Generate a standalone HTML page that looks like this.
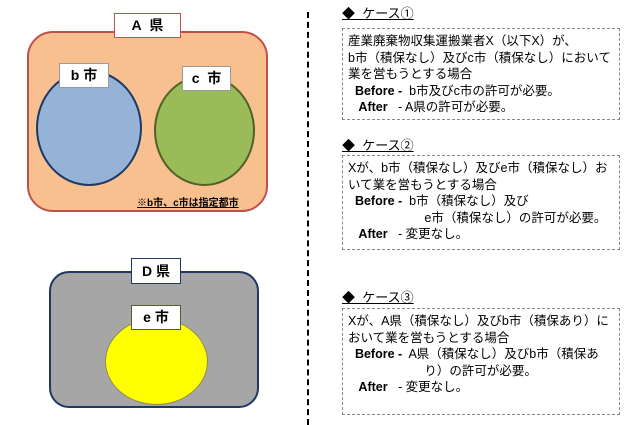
<!DOCTYPE html>
<html><head><meta charset="utf-8"><style>
body{margin:0;width:640px;height:425px;background:#fff;position:relative;overflow:hidden;font-family:"Liberation Sans","Noto Sans CJK JP",sans-serif;color:#000}
.a{position:absolute}
.lbl{position:absolute;background:#fff;text-align:center;font-weight:bold;font-size:14px;box-sizing:border-box}
.h{position:absolute;left:342px;font-size:13px;text-decoration:underline;white-space:nowrap}
.box{position:absolute;left:342px;width:278px;border:1px dashed #888;box-sizing:border-box;font-size:12.5px;line-height:16.5px;padding:4px 5px;white-space:nowrap}
b{font-weight:bold}
</style></head><body>
<div class="a" style="left:27px;top:31px;width:241px;height:181px;background:#f8bf8f;border:2px solid #c0504d;border-radius:26px;box-sizing:border-box"></div>
<div class="lbl" style="left:114px;top:13px;width:67px;height:25px;border:1px solid #c0504d;line-height:23px">A&nbsp; 県</div>
<div class="a" style="left:36px;top:70px;width:106px;height:116px;background:#95b3d7;border:2px solid #1f3864;border-radius:50%;box-sizing:border-box"></div>
<div class="lbl" style="left:59px;top:63px;width:50px;height:25px;border:1px solid #999;line-height:23px">b 市</div>
<div class="a" style="left:154px;top:75px;width:101px;height:111px;background:#9bbb59;border:2px solid #4f6228;border-radius:50%;box-sizing:border-box"></div>
<div class="lbl" style="left:182px;top:66px;width:49px;height:25px;border:1px solid #999;line-height:23px">c&nbsp; 市</div>
<div class="a" style="left:137px;top:194px;font-size:10px;font-weight:bold;text-decoration:underline;white-space:nowrap">※b市、c市は指定都市</div>

<div class="a" style="left:49px;top:271px;width:210px;height:137px;background:#a6a6a6;border:2px solid #1f3864;border-radius:20px;box-sizing:border-box"></div>
<div class="lbl" style="left:131px;top:258px;width:50px;height:26px;border:1px solid #1f3864;line-height:24px">D 県</div>
<div class="a" style="left:105px;top:318px;width:103px;height:87px;background:#ffff00;border:1px solid #948a54;border-radius:50%;box-sizing:border-box"></div>
<div class="lbl" style="left:131px;top:305px;width:50px;height:25px;border:1px solid #4f6228;line-height:23px">e 市</div>

<div class="a" style="left:307px;top:12px;height:413px;border-left:2px dashed #000"></div>

<div class="h" style="top:3px">◆&nbsp; ケース①</div>
<div class="box" style="top:28px;height:92px">産業廃棄物収集運搬業者X（以下X）が、<br>b市（積保なし）及びc市（積保なし）において<br>業を営もうとする場合<br>&nbsp;&nbsp;<b>Before -</b>&nbsp; b市及びc市の許可が必要。<br>&nbsp;&nbsp;&nbsp;<b>After</b>&nbsp;&nbsp;&nbsp;- A県の許可が必要。</div>

<div class="h" style="top:135px">◆&nbsp; ケース②</div>
<div class="box" style="top:155px;height:95px">Xが、b市（積保なし）及びe市（積保なし）お<br>いて業を営もうとする場合<br>&nbsp;&nbsp;<b>Before -</b>&nbsp; b市（積保なし）及び<br>&nbsp;&nbsp;&nbsp;&nbsp;&nbsp;&nbsp;&nbsp;&nbsp;&nbsp;&nbsp;&nbsp;&nbsp;&nbsp;&nbsp;&nbsp;&nbsp;&nbsp;&nbsp;&nbsp;&nbsp;&nbsp;&nbsp;e市（積保なし）の許可が必要。<br>&nbsp;&nbsp;&nbsp;<b>After</b>&nbsp;&nbsp;&nbsp;- 変更なし。</div>

<div class="h" style="top:287px">◆&nbsp; ケース③</div>
<div class="box" style="top:308px;height:107px">Xが、A県（積保なし）及びb市（積保あり）に<br>おいて業を営もうとする場合<br>&nbsp;&nbsp;<b>Before -</b>&nbsp; A県（積保なし）及びb市（積保あ<br>&nbsp;&nbsp;&nbsp;&nbsp;&nbsp;&nbsp;&nbsp;&nbsp;&nbsp;&nbsp;&nbsp;&nbsp;&nbsp;&nbsp;&nbsp;&nbsp;&nbsp;&nbsp;&nbsp;&nbsp;&nbsp;&nbsp;り）の許可が必要。<br>&nbsp;&nbsp;&nbsp;<b>After</b>&nbsp;&nbsp;&nbsp;- 変更なし。</div>
</body></html>
